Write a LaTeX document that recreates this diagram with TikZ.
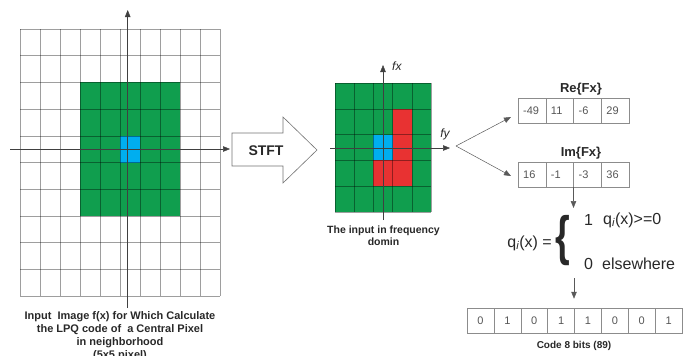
\documentclass[tikz,border=0pt]{standalone}
\usepackage{fontspec}
\usepackage{graphicx}
\setmainfont{Liberation Sans}
\usetikzlibrary{arrows.meta,calc}
\definecolor{pgreen}{RGB}{16,158,78}
\definecolor{pblue}{RGB}{0,174,239}
\definecolor{pred}{RGB}{232,50,50}
\definecolor{txt}{RGB}{40,40,40}
\definecolor{valtxt}{RGB}{85,85,85}
\begin{document}
\begin{tikzpicture}[x=1pt,y=-1pt,
  tip/.style={-{Triangle[length=7pt,width=5.5pt]}},
  axisline/.style={draw=black!75,line width=0.5pt},
  gridline/.style={draw=black,opacity=0.38,line width=0.5pt},
  cellline/.style={draw=black!45,line width=0.5pt},
  connector/.style={draw=black!65,line width=0.5pt},
  boxnode/.style={draw=black!45,line width=0.5pt,inner sep=0pt,minimum height=25pt},
  valnode/.style={font=\fontsize{11}{11}\selectfont,text=valtxt,inner sep=0pt},
  titlenode/.style={font=\bfseries\fontsize{13}{13}\selectfont,text=txt,inner sep=0pt},
  capnode/.style={font=\bfseries\fontsize{11}{13}\selectfont,text=txt,align=center,inner sep=0pt},
  eqnode/.style={font=\fontsize{16}{16}\selectfont,text=txt,inner sep=0pt}
]
\useasboundingbox (0,0) rectangle (697,356);

% ---------------- left grid ----------------
\fill[pgreen] (80,82.4) rectangle (180,215.9);
\fill[pblue] (120,135.8) rectangle (140,162.5);
\foreach \i in {0,...,10} \draw[gridline] ({20+20*\i},29) -- ({20+20*\i},296);
\foreach \i in {0,...,10} \draw[gridline] (20,{29+26.7*\i}) -- (220,{29+26.7*\i});
\coordinate (lvbot) at (127.7,308);
\coordinate (lvtop) at (127.7,10);
\coordinate (lhleft) at (10,149);
\coordinate (lhright) at (230,149);
\draw[axisline,tip] (lvbot) -- (lvtop);
\draw[axisline,tip] (lhleft) -- (lhright);
\node[capnode,anchor=north] (leftcap) at (120,311)
  {Input~ Image f(x) for Which Calculate\\the LPQ code of~ a Central Pixel\\in neighborhood\\(5x5 pixel)};

% ---------------- STFT arrow ----------------
\draw[draw=black!55,line width=0.6pt,fill=white,line join=miter]
  (232,133) -- (283,133) -- (283,117) -- (317,150) -- (283,183) -- (283,166) -- (232,166) -- cycle;
\node[font=\bfseries\fontsize{14}{14}\selectfont,text=txt,inner sep=0pt] (stft) at (266,151) {STFT};

% ---------------- middle grid ----------------
\fill[pgreen] (335,83) rectangle (431,212);
\fill[pblue] (373.4,134.6) rectangle (392.6,160.4);
\fill[pred] (392.6,108.8) rectangle (411.8,186.2);
\fill[pred] (373.4,160.4) rectangle (392.6,186.2);
\foreach \i in {0,...,5} \draw[gridline] ({335+19.2*\i},83) -- ({335+19.2*\i},212);
\foreach \i in {0,...,5} \draw[gridline] (335,{83+25.8*\i}) -- (431,{83+25.8*\i});
\coordinate (mvbot) at (383,220);
\coordinate (mvtop) at (383,65);
\coordinate (mhleft) at (330,148);
\coordinate (mhright) at (450,148);
\draw[axisline,tip] (mvbot) -- (mvtop);
\draw[axisline,tip] (mhleft) -- (mhright);
\node[font=\itshape\fontsize{12}{12}\selectfont,text=txt,inner sep=0pt,anchor=west] (fx) at (392,66) {fx};
\node[font=\itshape\fontsize{12}{12}\selectfont,text=txt,inner sep=0pt] (fy) at (445,134) {fy};
\node[capnode,font=\bfseries\fontsize{10.5}{11.5}\selectfont,anchor=north] (midcap) at (383.5,226)
  {The input in frequency\\domin};

% ---------------- Re / Im boxes ----------------
\node[titlenode] (relabel) at (581,89) {Re\{Fx\}};
\node[boxnode,minimum width=111pt] (re) at (573.5,110.5) {};
\foreach \i in {1,2,3} \draw[cellline] ({518+27.75*\i},98) -- ({518+27.75*\i},123);
\foreach \v [count=\k from 0] in {-49,11,-6,29}
  \node[valnode,anchor=west] (re\k) at ({523+27.75*\k},110.5) {\v};

\node[titlenode] (imlabel) at (581,153) {Im\{Fx\}};
\node[boxnode,minimum width=111pt] (im) at (573.5,174.5) {};
\foreach \i in {1,2,3} \draw[cellline] ({518+27.75*\i},162) -- ({518+27.75*\i},187);
\foreach \v [count=\k from 0] in {16,-1,-3,36}
  \node[valnode,anchor=west] (im\k) at ({523+27.75*\k},174.5) {\v};

% fork
\coordinate (fork) at (456,146);
\coordinate (retip) at (511,117);
\coordinate (imtip) at (511,176);
\draw[connector,tip] (fork) -- (retip);
\draw[connector,tip] (fork) -- (imtip);

% ---------------- equation ----------------
\coordinate (eqtip) at (573.5,208);
\draw[connector,tip] (im.south) -- (eqtip);
\node[eqnode,anchor=east] (qlhs) at (552,243) {q\textsubscript{\itshape i}(x) =};
\node[text=txt,inner sep=0pt] (brace) at (563,241)
  {\scalebox{0.7}[1]{\bfseries\fontsize{54}{54}\selectfont\{}};
\node[eqnode,anchor=west] (one) at (584,220) {1};
\node[eqnode,anchor=west] (cond) at (603,220) {q\textsubscript{\itshape i}(x)>=0};
\node[eqnode,anchor=west] (zero) at (584,264) {0};
\node[eqnode,anchor=west] (else) at (602,264) {elsewhere};

% ---------------- code bits ----------------
\node[boxnode,minimum width=215pt] (bits) at (574.5,320.5) {};
\foreach \i in {1,...,7} \draw[cellline] ({467+26.875*\i},308) -- ({467+26.875*\i},333);
\foreach \v [count=\k from 0] in {0,1,0,1,1,0,0,1}
  \node[valnode] (bit\k) at ({467+26.875*\k+13.44},320.5) {\v};
\coordinate (qbot) at (574,278);
\draw[connector,tip,shorten >=9pt] (qbot) -- (qbot |- bits.north);
\node[font=\bfseries\fontsize{10}{10}\selectfont,text=txt,inner sep=0pt] (bitscap) at (574,346) {Code 8 bits (89)};
\end{tikzpicture}
\end{document}
